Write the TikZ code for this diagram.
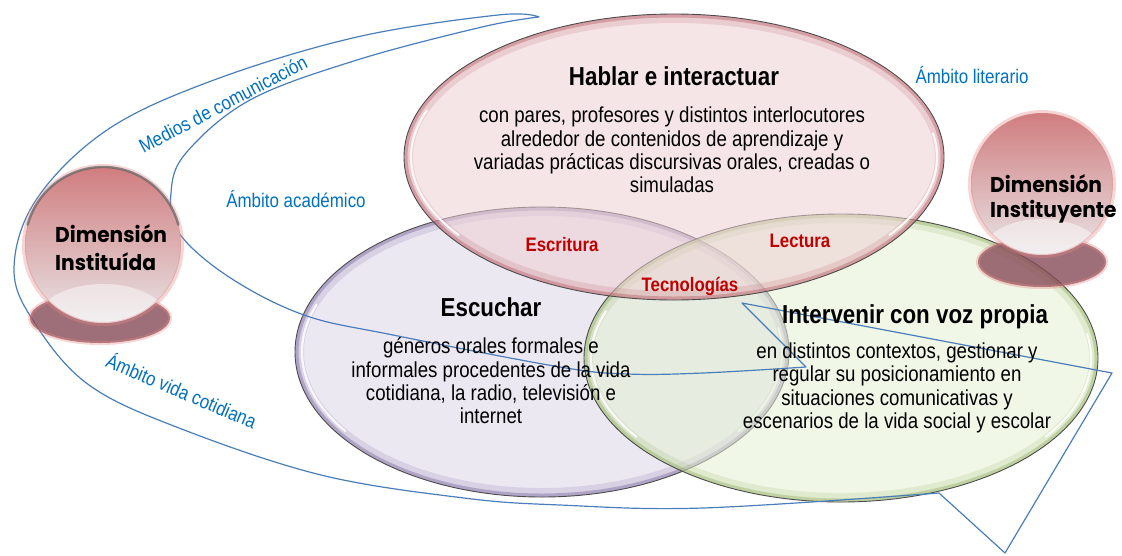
\documentclass[tikz,border=0pt]{standalone}
\usepackage{fontspec}
\setmainfont{Liberation Sans}[FakeStretch=0.86]
\newfontfamily\dimfont{Poppins}[FakeStretch=0.94]
\definecolor{ambitoblue}{RGB}{0,112,192}
\definecolor{lineblue}{RGB}{74,126,187}
\definecolor{crucered}{RGB}{192,0,0}
\definecolor{hablarfill}{RGB}{237,207,210}
\definecolor{hablarrim}{RGB}{175,70,82}
\definecolor{escucharfill}{RGB}{221,214,231}
\definecolor{escucharrim}{RGB}{100,80,145}
\definecolor{intervfill}{RGB}{228,240,210}
\definecolor{intervrim}{RGB}{130,165,75}
\definecolor{circtop}{RGB}{208,125,127}
\definecolor{circmid}{RGB}{214,155,158}
\definecolor{circbot}{RGB}{232,228,230}
\definecolor{sombra}{RGB}{135,75,88}
\definecolor{rosa}{RGB}{228,135,135}
\begin{document}
\begin{tikzpicture}[x=1pt, y=-1pt]
  \useasboundingbox (0,0) rectangle (1122,555);
  \tikzstyle{ambito}=[text=ambitoblue, font=\fontsize{19.7}{22}\selectfont, inner sep=0pt]
  \tikzstyle{titulo}=[font=\bfseries\fontsize{26}{28}\selectfont, inner sep=0pt]
  \tikzstyle{cuerpo}=[font=\fontsize{21.7}{23.3}\selectfont, align=center, inner sep=0pt]
  \tikzstyle{cruce}=[text=crucered, font=\bfseries\fontsize{19.5}{21}\selectfont, inner sep=0pt]
  \tikzstyle{dimension}=[font=\dimfont\bfseries\fontsize{21.5}{26}\selectfont, inner sep=0pt, anchor=base west]
  \tikzstyle{borde}=[draw=black!70, line width=0.9pt]
  \tikzstyle{brillo}=[draw=white, line width=2.2pt, opacity=0.85, line cap=round]
  \tikzstyle{contorno}=[draw=lineblue, line width=1.2pt, line join=round]
  \tikzstyle{glow}=[draw=rosa, line width=4pt, opacity=0.35]
  \tikzstyle{aro}=[draw=black!60, line width=2.4pt, opacity=0.75, line cap=round]

  % Escuchar
  \fill[escucharfill, fill opacity=0.55] (542,352) ellipse [x radius=247pt, y radius=145pt];
  \begin{scope}
    \clip (542,352) ellipse [x radius=247pt, y radius=145pt];
    \draw[escucharrim, line width=18pt, opacity=0.15] (542,352) ellipse [x radius=247pt, y radius=145pt];
    \draw[escucharrim, line width=7pt, opacity=0.35] (542,352) ellipse [x radius=247pt, y radius=145pt];
  \end{scope}
  \draw[borde] (542,352) ellipse [x radius=247pt, y radius=145pt];
  \draw[brillo] (542,352) ++(160:240pt and 138pt) arc [start angle=160, end angle=215, x radius=240pt, y radius=138pt];
  \draw[brillo] (542,352) ++(-35:240pt and 138pt) arc [start angle=-35, end angle=10, x radius=240pt, y radius=138pt];

  % Intervenir
  \fill[intervfill, fill opacity=0.55] (841,358) ellipse [x radius=257pt, y radius=144pt];
  \begin{scope}
    \clip (841,358) ellipse [x radius=257pt, y radius=144pt];
    \draw[intervrim, line width=18pt, opacity=0.15] (841,358) ellipse [x radius=257pt, y radius=144pt];
    \draw[intervrim, line width=7pt, opacity=0.35] (841,358) ellipse [x radius=257pt, y radius=144pt];
  \end{scope}
  \draw[borde] (841,358) ellipse [x radius=257pt, y radius=144pt];
  \draw[brillo] (841,358) ++(160:250pt and 137pt) arc [start angle=160, end angle=215, x radius=250pt, y radius=137pt];
  \draw[brillo] (841,358) ++(-35:250pt and 137pt) arc [start angle=-35, end angle=10, x radius=250pt, y radius=137pt];

  % Hablar
  \fill[hablarfill, fill opacity=0.55] (674,157) ellipse [x radius=270pt, y radius=143pt];
  \begin{scope}
    \clip (674,157) ellipse [x radius=270pt, y radius=143pt];
    \draw[hablarrim, line width=18pt, opacity=0.15] (674,157) ellipse [x radius=270pt, y radius=143pt];
    \draw[hablarrim, line width=7pt, opacity=0.35] (674,157) ellipse [x radius=270pt, y radius=143pt];
  \end{scope}
  \draw[borde] (674,157) ellipse [x radius=270pt, y radius=143pt];
  \draw[brillo] (674,157) ++(160:263pt and 136pt) arc [start angle=160, end angle=215, x radius=263pt, y radius=136pt];
  \draw[brillo] (674,157) ++(-35:263pt and 136pt) arc [start angle=-35, end angle=10, x radius=263pt, y radius=136pt];

  % contorno de los ambitos
  \draw[contorno] plot[smooth, tension=0.6] coordinates {(539,17) (498,15) (357,37) (214,80) (107,130) (36,200) (14,270) (36,325) (89,385) (179,428) (321,475) (464,498) (560,505) (703,508) (939,493)}
    -- (1005,553) -- (1112,373) -- (742,303) -- (806,367)
    -- plot[smooth, tension=0.6] coordinates {(806,367) (703,373) (628,374) (560,367) (393,335) (304,315) (229,277) (179,233) (171,193) (186,153) (250,100) (357,60) (482,27) (539,17)} -- cycle;

  % Dimension Instituida
  \fill[sombra, opacity=0.8] (100,318) ellipse [x radius=70pt, y radius=25pt];
  \draw[glow] (100,318) ellipse [x radius=70pt, y radius=25pt];
  \shade[top color=circtop, middle color=circmid, bottom color=circbot] (103,245) circle [radius=78pt];
  \begin{scope}
    \clip (103,245) circle [radius=78pt];
    \fill[white, opacity=0.45] (103,318) ellipse [x radius=64pt, y radius=34pt];
  \end{scope}
  \draw[glow] (103,245) circle [radius=79pt];
  \draw[aro] (103,245) ++(15:78pt) arc [start angle=15, end angle=165, radius=78pt];

  % Dimension Instituyente
  \fill[sombra, opacity=0.8] (1042,262) ellipse [x radius=64pt, y radius=25pt];
  \draw[glow] (1042,262) ellipse [x radius=64pt, y radius=25pt];
  \shade[top color=circtop, middle color=circmid, bottom color=circbot] (1042,184) circle [radius=71pt];
  \begin{scope}
    \clip (1042,184) circle [radius=71pt];
    \fill[white, opacity=0.45] (1042,250) ellipse [x radius=58pt, y radius=31pt];
  \end{scope}
  \draw[glow] (1042,184) circle [radius=72pt];

  % textos
  \node[ambito, rotate=27.6] (medios) at (223,104) {Medios de comunicación};
  \node[ambito, anchor=base] (academico) at (296,207) {Ámbito académico};
  \node[ambito, anchor=base] (literario) at (972,83) {Ámbito literario};
  \node[ambito, rotate=-23] (cotidiana) at (182,390) {Ámbito vida cotidiana};

  \node[titulo, anchor=base] (hablar) at (674,85) {Hablar e interactuar};
  \node[cuerpo] (hablartxt) at (672,150) {con pares, profesores y distintos interlocutores\\alrededor de contenidos de aprendizaje y\\variadas prácticas discursivas orales, creadas o\\simuladas};
  \node[titulo, anchor=base] (escuchar) at (491,316) {Escuchar};
  \node[cuerpo] (escuchartxt) at (491,381) {géneros orales formales e\\informales procedentes de la vida\\cotidiana, la radio, televisión e\\internet};
  \node[titulo, anchor=base] (intervenir) at (915,323) {Intervenir con voz propia};
  \node[cuerpo] (intervenirtxt) at (897,388) {en distintos contextos, gestionar y\\regular su posicionamiento en\\situaciones comunicativas y\\escenarios de la vida social y escolar};

  \node[cruce] (escritura) at (562,245) {Escritura};
  \node[cruce] (lectura) at (800,241) {Lectura};
  \node[cruce, anchor=base] (tecnologias) at (690,291) {Tecnologías};

  \node[dimension] (instituida1) at (55,242) {Dimensión};
  \node[dimension] (instituida2) at (55,270) {Instituída};
  \node[dimension] (instituyente1) at (990,192) {Dimensión};
  \node[dimension] (instituyente2) at (990,217) {Instituyente};
\end{tikzpicture}
\end{document}
